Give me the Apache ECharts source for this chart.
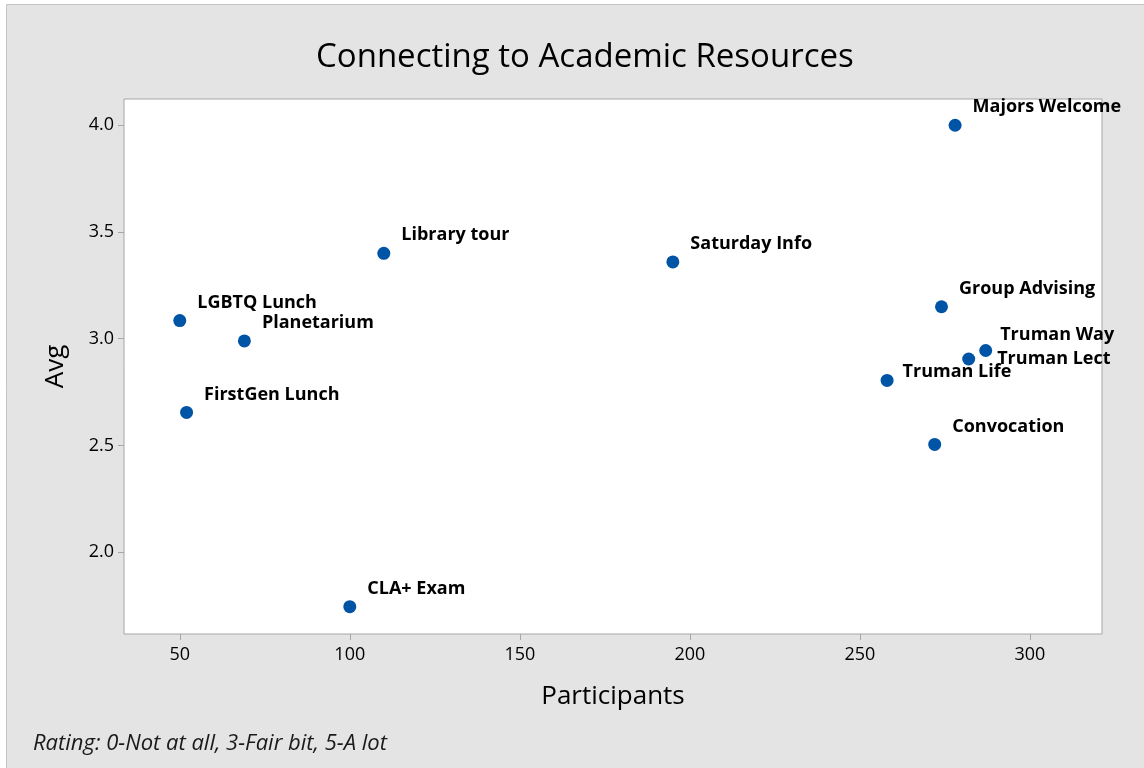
<!DOCTYPE html>
<html>
<head>
<meta charset="utf-8">
<script src="https://cdn.jsdelivr.net/npm/echarts@6/dist/echarts.min.js"></script>
<style>
  html, body { margin: 0; padding: 0; background: #ffffff; }
  #echarts { width: 1144px; height: 768px; }
</style>
</head>
<body>
<div id="echarts"></div>
<script>
// events and their values
const names = ['Majors Welcome', 'Library tour', 'Saturday Info', 'LGBTQ Lunch', 'Planetarium',
  'FirstGen Lunch', 'CLA+ Exam', 'Group Advising', 'Truman Way', 'Truman Lect', 'Truman Life', 'Convocation'];
const participants = [278, 110, 195, 50, 69, 52, 100, 274, 287, 282, 258, 272];
const avg = [4.0, 3.40, 3.36, 3.085, 2.99, 2.655, 1.745, 3.15, 2.945, 2.905, 2.805, 2.505];
const xTicks = [50, 100, 150, 200, 250, 300];
const yTicks = [2.0, 2.5, 3.0, 3.5, 4.0];

// label offsets from the label's default spot (a few labels sit somewhere else)
const labelOffset = { 'Truman Way': [8, -16], 'Truman Lect': [22, 0], 'Truman Life': [9, -9] };
const defaultOffset = [11, -18];

const font = '"Open Sans", "Noto Sans", sans-serif';
const mycharts = echarts.init(document.getElementById('echarts'), null, { renderer: 'canvas' });

const option = {
  backgroundColor: '#ffffff',
  graphic: [
    {
      type: 'rect', z: -10, silent: true,
      shape: { x: 6.5, y: 4.5, width: 1160, height: 790 },
      style: { fill: '#e4e4e4', stroke: '#c4c4c4', lineWidth: 1 }
    },
    {
      type: 'text', left: 33, top: 733,
      style: { text: 'Rating: 0-Not at all, 3-Fair bit, 5-A lot', fontFamily: font, fontStyle: 'italic', fontSize: 22, fill: '#1a1a1a' }
    }
  ],
  title: {
    text: 'Connecting to Academic Resources',
    left: 311, top: 36,
    textStyle: { fontFamily: font, fontSize: 33, fontWeight: 500, color: '#000' }
  },
  grid: {
    left: 124, top: 99, width: 978, height: 535,
    show: true, backgroundColor: '#ffffff', borderColor: '#a6a6a6', borderWidth: 1
  },
  xAxis: {
    type: 'value', min: 33.6, max: 321.2,
    name: 'Participants', nameLocation: 'middle', nameGap: 50,
    nameTextStyle: { fontFamily: font, fontSize: 26, fontWeight: 500, color: '#000' },
    axisLine: { show: false },
    splitLine: { show: false },
    axisTick: { show: true, customValues: xTicks, length: 6, lineStyle: { color: '#a6a6a6' } },
    axisLabel: { customValues: xTicks, fontFamily: font, fontSize: 18, color: '#000', margin: 12 }
  },
  yAxis: {
    type: 'value', min: 1.617, max: 4.123,
    name: 'Avg', nameLocation: 'middle', nameGap: 55,
    nameTextStyle: { fontFamily: font, fontSize: 26, fontWeight: 500, color: '#000' },
    axisLine: { show: false },
    splitLine: { show: false },
    axisTick: { show: true, customValues: yTicks, length: 6, lineStyle: { color: '#a6a6a6' } },
    axisLabel: { customValues: yTicks, fontFamily: font, fontSize: 18, color: '#000', margin: 10,
      formatter: (v) => v.toFixed(1) }
  },
  series: [
    {
      type: 'scatter',
      symbolSize: 13,
      itemStyle: { color: '#0054a6', opacity: 1 },
      data: names.map((n, i) => ({ name: n, value: [participants[i], avg[i]] })),
      label: {
        show: true, position: 'right', distance: 0,
        formatter: (p) => p.name,
        fontFamily: font, fontSize: 18, fontWeight: 'bold', color: '#000'
      },
      labelLayout: (params) => {
        const off = labelOffset[names[params.dataIndex]] || defaultOffset;
        return { dx: off[0], dy: off[1], hideOverlap: false };
      }
    }
  ]
};
mycharts.setOption(option);
</script>
</body>
</html>
